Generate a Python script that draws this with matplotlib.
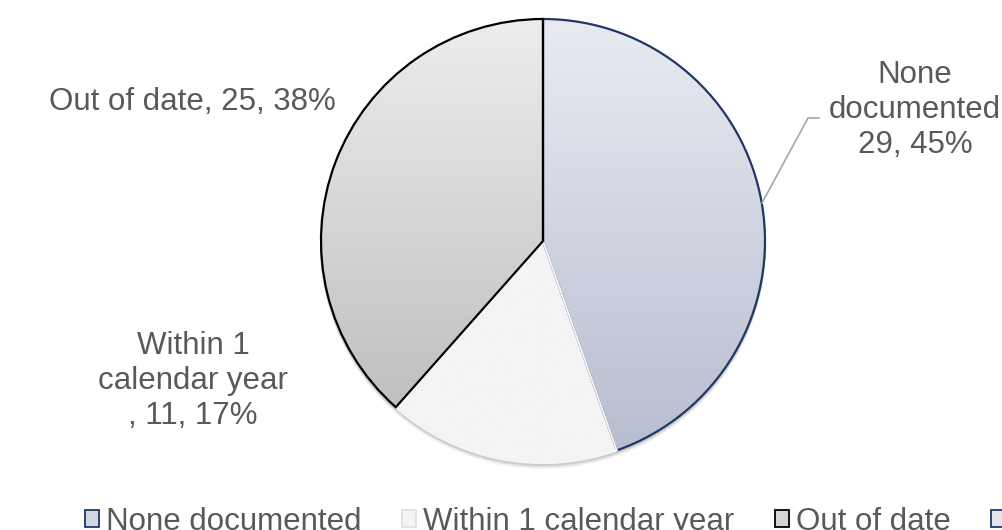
import numpy as np
import matplotlib
matplotlib.use("Agg")
import matplotlib.pyplot as plt
from matplotlib.colors import LinearSegmentedColormap
from matplotlib.patches import Rectangle, Circle

plt.rcParams["font.family"] = ["Liberation Sans", "DejaVu Sans"]

# data
categories = ["None documented", "Within 1 calendar year", "Out of date"]
counts = [29, 11, 25]
legend_extra = "Not applicable"   # 4th legend entry, cut off at the right edge

# slice styling (top colour, bottom colour, edge colour)
tops = ["#E9EBF1", "#F4F4F4", "#EDEDED"]
bottoms = ["#B6BCD0", "#F4F4F4", "#B9B9B9"]
edges = ["#1F3864", "#F4F4F4", "#000000"]
text_col = "#595959"

W, H = 1003, 530
fig = plt.figure(figsize=(W / 100, H / 100), dpi=100)
ax = fig.add_axes([0, 0, 1, 1])

cx, cy, r = 543, H - 241, 222

# soft shadow under the pie
for i, a in enumerate([0.10, 0.07, 0.04]):
    ax.add_patch(Circle((cx, cy - 2 - i * 1.5), r + 1, color="#000000",
                        alpha=a, lw=0, zorder=0))

wedges, _ = ax.pie(counts, startangle=90, counterclock=False,
                   center=(cx, cy), radius=r, frame=True,
                   wedgeprops=dict(linewidth=1.6))

grad = np.linspace(0, 1, 256).reshape(-1, 1)
for w, c0, c1, ec in zip(wedges, tops, bottoms, edges):
    w.set_facecolor("none")
    w.set_edgecolor(ec)
    w.set_zorder(3)
    cmap = LinearSegmentedColormap.from_list("g", [c1, c0])
    im = ax.imshow(grad, cmap=cmap, origin="lower", aspect="auto",
                   extent=(cx - r, cx + r, cy - r, cy + r), zorder=2)
    im.set_clip_path(w)
ax.set_xlim(0, W)
ax.set_ylim(0, H)
ax.set_aspect("equal")
ax.axis("off")

# data labels
total = sum(counts)
pct = [round(v / total * 100) for v in counts]
fs = 22.5
ax.text(915, H - 110, f"None\ndocumented\n{counts[0]}, {pct[0]}%", ha="center",
        va="center", fontsize=fs, color=text_col, linespacing=1.22)
ax.plot([762, 808, 819], [H - 203, H - 118, H - 118], color="#A6A6A6", lw=1.2,
        zorder=4)
ax.text(193, H - 381, f"Within 1\ncalendar year\n, {counts[1]}, {pct[1]}%",
        ha="center", va="center", fontsize=fs, color=text_col, linespacing=1.22)
ax.text(192, H - 102, f"Out of date, {counts[2]}, {pct[2]}%", ha="center",
        va="center", fontsize=fs, color=text_col)

# legend
handles = [
    Rectangle((0, 0), 1, 1, facecolor="#D3D7E3", edgecolor="#1F3864", lw=1.3),
    Rectangle((0, 0), 1, 1, facecolor="#F4F4F4", edgecolor="#E0E0E0", lw=1.3),
    Rectangle((0, 0), 1, 1, facecolor="#D4D4D4", edgecolor="#000000", lw=1.3),
    Rectangle((0, 0), 1, 1, facecolor="#E4E6EC", edgecolor="#1F3864", lw=1.3),
]
leg = ax.legend(handles, categories + [legend_extra], loc="lower left",
                bbox_to_anchor=(85 / W, -7 / H), ncol=4, frameon=False,
                fontsize=fs, handlelength=0.45, handleheight=0.45,
                handletextpad=0.22, columnspacing=1.3, borderaxespad=0,
                borderpad=0)
for t in leg.get_texts():
    t.set_color(text_col)

fig.savefig("out.png", dpi=100)
